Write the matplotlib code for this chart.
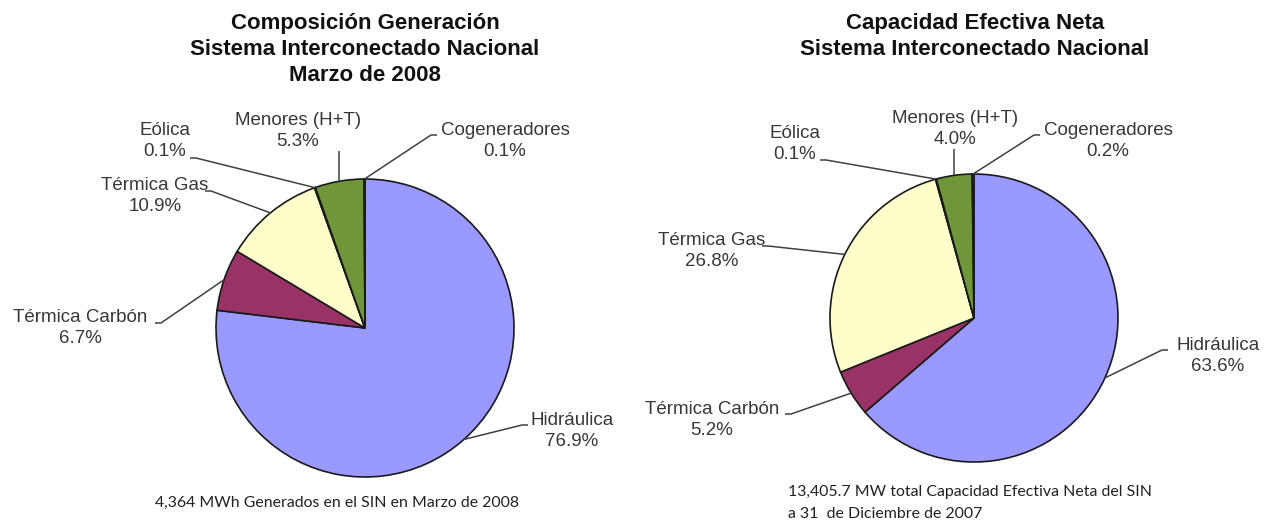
import numpy as np
import matplotlib.pyplot as plt

# ---------------- data ----------------
categories = ['Hidráulica', 'Térmica Carbón', 'Térmica Gas', 'Eólica',
              'Menores (H+T)', 'Cogeneradores']
generacion_pct = [76.9, 6.7, 10.9, 0.1, 5.3, 0.1]
capacidad_pct = [63.6, 5.2, 26.8, 0.1, 4.0, 0.2]

title_left = 'Composición Generación\nSistema Interconectado Nacional\nMarzo de 2008'
title_right = 'Capacidad Efectiva Neta\nSistema Interconectado Nacional'
note_left = '4,364 MWh Generados en el SIN en Marzo de 2008'
note_right = '13,405.7 MW total Capacidad Efectiva Neta del SIN\na 31  de Diciembre de 2007'

colors = ['#9999FF', '#993366', '#FFFFCC', '#3A3A6A', '#70963A', '#C0C0C0']

# ---------------- layout (pixels, y from top) ----------------
W, H = 1267, 522
fig = plt.figure(figsize=(W / 100, H / 100), dpi=100)
ax = fig.add_axes([0, 0, 1, 1])


def py(y):
    return H - y


LBL = dict(fontsize=13.5, color='#383838', family='Liberation Sans',
           ha='center', va='center', linespacing=1.3)

# label layout per category: (text_cx, text_cy, anchor_x, anchor_y, tick)
left_layout = {
    'Hidráulica':     (572, 431, 528, 425, -6),
    'Térmica Carbón': (80, 328, 155, 323, 6),
    'Térmica Gas':    (155, 196, 205, 191, 6),
    'Eólica':         (165, 141, 190, 158, 6),
    'Menores (H+T)':  (298, 131, None, 151, 0),
    'Cogeneradores':  (505, 141, 437, 135, -6),
}
right_layout = {
    'Hidráulica':     (1218, 356, 1168, 350, -6),
    'Térmica Carbón': (712, 420, 785, 414, 6),
    'Térmica Gas':    (712, 251, 762, 246, 6),
    'Eólica':         (795, 144, 820, 160, 6),
    'Menores (H+T)':  (955, 129, None, 149, 0),
    'Cogeneradores':  (1108, 141, 1040, 135, -6),
}


def draw_pie(values, cx, cy, r, layout):
    wedges, _ = ax.pie(values, colors=colors, startangle=90, counterclock=False,
                       center=(cx, py(cy)), radius=r,
                       wedgeprops=dict(edgecolor='#1a1a1a', linewidth=1.2))
    for w, cat, v in zip(wedges, categories, values):
        tx, ty, axx, ayy, tick = layout[cat]
        ax.text(tx, py(ty), f'{cat}\n{v:.1f}%', **LBL)
        mid = np.deg2rad((w.theta1 + w.theta2) / 2)
        ex = cx + r * np.cos(mid)
        ey = py(cy) + r * np.sin(mid)
        if axx is None:
            xs = [ex, ex]
            ys = [py(ayy), ey]
        else:
            xs = [axx, axx + tick, ex]
            ys = [py(ayy), py(ayy), ey]
        ax.plot(xs, ys, color='#404040', lw=1.1, solid_capstyle='butt')


draw_pie(generacion_pct, 365, 328, 149, left_layout)
draw_pie(capacidad_pct, 974, 318, 144, right_layout)

ax.set_xlim(0, W)
ax.set_ylim(0, H)
ax.set_aspect('equal')
ax.axis('off')

TT = dict(fontsize=16, fontweight='bold', family='Liberation Sans', color='#111111',
          ha='center', va='top', linespacing=1.3)
ax.text(365, py(13), title_left, **TT)
ax.text(975, py(13), title_right, **TT)

NT = dict(fontsize=11.4, family='Lato', color='#222222')
ax.text(337, py(503), note_left, ha='center', va='center', **NT)
ax.text(788, py(503), note_right, ha='left', va='center', linespacing=1.65, **NT)

fig.savefig('out.png', dpi=100, facecolor='white')
